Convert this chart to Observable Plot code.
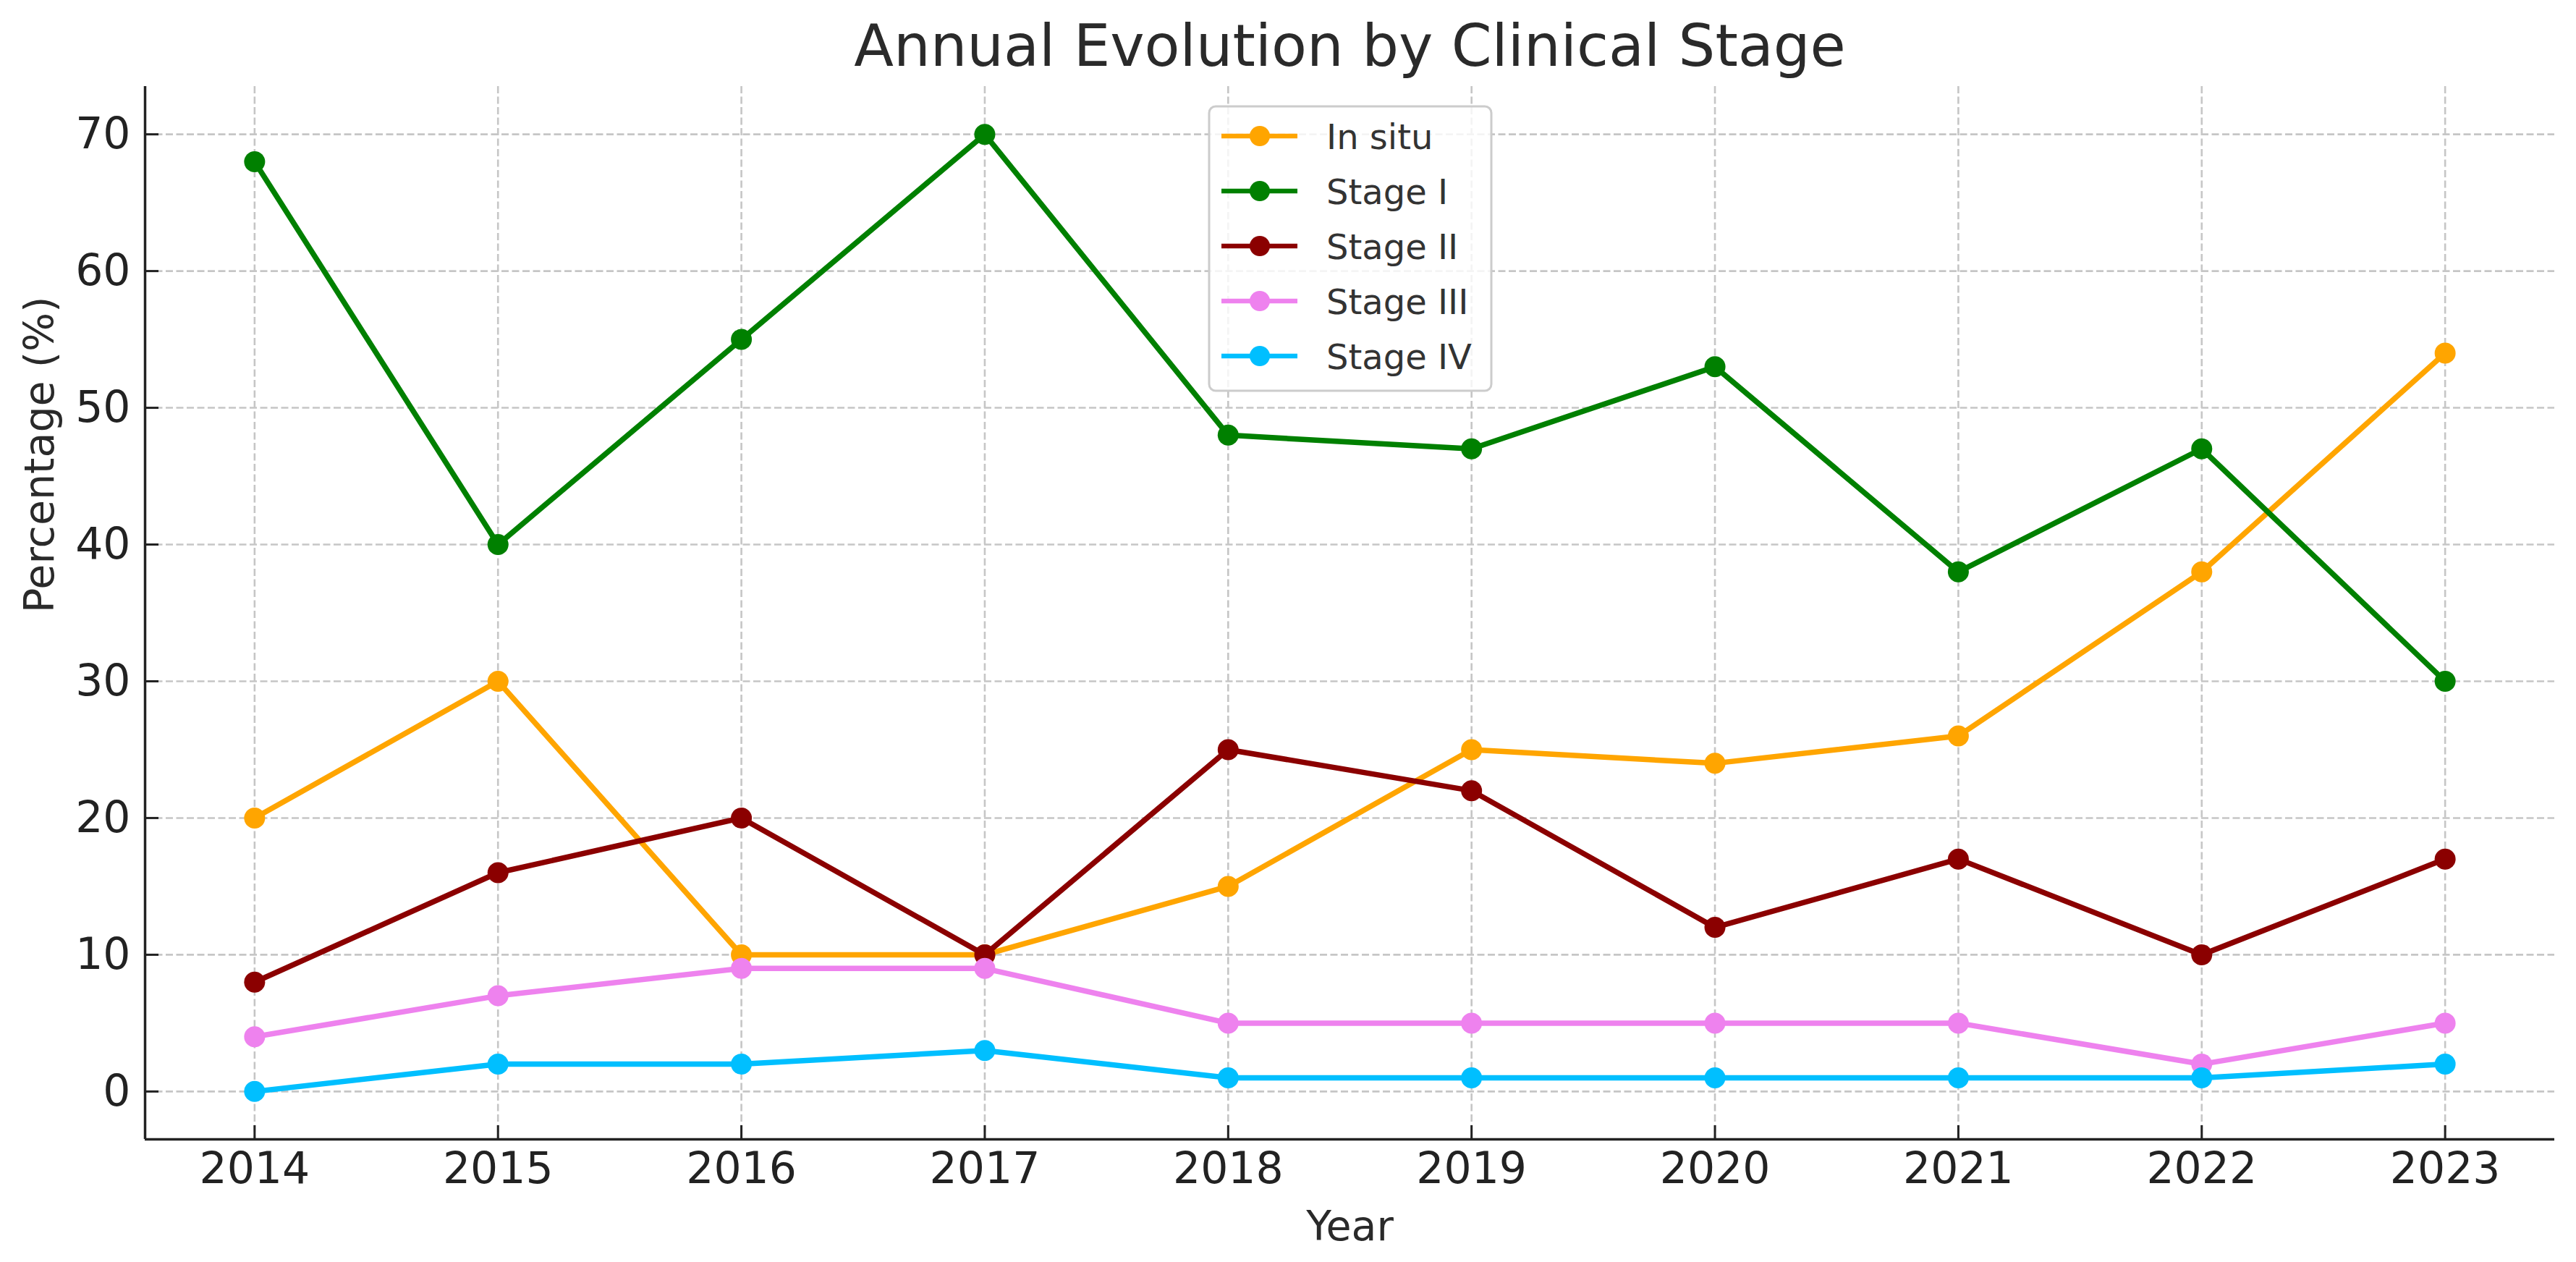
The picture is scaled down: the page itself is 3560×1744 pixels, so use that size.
<!DOCTYPE html>
<html>
<head>
<meta charset="utf-8">
<script src="https://cdn.jsdelivr.net/npm/d3@7"></script>
<script src="https://cdn.jsdelivr.net/npm/@observablehq/plot@0.6"></script>
<style>
html, body { margin: 0; padding: 0; background: #ffffff; }
#wrap { position: relative; width: 3560px; height: 1744px; overflow: hidden; }
#wrap > svg { position: absolute; left: 0; top: 0; }
</style>
</head>
<body>
<div id="wrap"></div>
<script>
// ---------- data ----------
const years = [2014, 2015, 2016, 2017, 2018, 2019, 2020, 2021, 2022, 2023];
const seriesNames = ["In situ", "Stage I", "Stage II", "Stage III", "Stage IV"];
const seriesColors = ["#FFA500", "#008000", "#8B0000", "#EE82EE", "#00BFFF"];
const inSitu   = [20, 30, 10, 10, 15, 25, 24, 26, 38, 54];
const stageI   = [68, 40, 55, 70, 48, 47, 53, 38, 47, 30];
const stageII  = [8, 16, 20, 10, 25, 22, 12, 17, 10, 17];
const stageIII = [4, 7, 9, 9, 5, 5, 5, 5, 2, 5];
const stageIV  = [0, 2, 2, 3, 1, 1, 1, 1, 1, 2];
const yTicks = [0, 10, 20, 30, 40, 50, 60, 70];
const titleText = "Annual Evolution by Clinical Stage";
const xLabel = "Year";
const yLabel = "Percentage (%)";

// ---------- build ----------
const seriesValues = [inSitu, stageI, stageII, stageIII, stageIV];
const rows = seriesNames.flatMap((name, i) =>
  years.map((year, j) => ({series: name, year, value: seriesValues[i][j]})));

const W = 3560, H = 1744;
const FONT = "'DejaVu Sans', sans-serif";
const xPad = (years[years.length - 1] - years[0]) * 0.05;
const xDomain = [years[0] - xPad, years[years.length - 1] + xPad];
const yPad = 70 * 0.05;
const yDomain = [0 - yPad, 70 + yPad];

const gridStyle = {stroke: "#c6c6c6", strokeOpacity: 1, strokeWidth: 2.6, strokeDasharray: "10,4.5"};

const marks = [
  Plot.gridX(years, gridStyle),
  Plot.gridY(yTicks, gridStyle)
];
seriesNames.forEach((name, i) => {
  const d = rows.filter(r => r.series === name);
  marks.push(Plot.line(d, {x: "year", y: "value", stroke: seriesColors[i], strokeWidth: 7.5, strokeLinejoin: "round", strokeLinecap: "square"}));
  marks.push(Plot.dot(d, {x: "year", y: "value", r: 14.5, fill: seriesColors[i], stroke: null}));
});
marks.push(
  Plot.ruleX([xDomain[0]], {stroke: "#222", strokeWidth: 3.5}),
  Plot.ruleY([yDomain[0]], {stroke: "#222", strokeWidth: 3.5}),
  Plot.axisX(years, {tickSize: -19, tickPadding: 37, tickFormat: d => String(d), fontSize: 60, color: "#222", strokeWidth: 3, label: null}),
  Plot.axisY(yTicks, {tickSize: -19, tickPadding: 39, tickFormat: d => String(d), fontSize: 60, color: "#222", strokeWidth: 3, label: null}),
  Plot.text([titleText], {text: d => d, frameAnchor: "top", dy: -29, lineAnchor: "bottom", fontSize: 80, fill: "#2a2a2a"}),
  Plot.text([xLabel], {text: d => d, frameAnchor: "bottom", dy: 139, lineAnchor: "bottom", fontSize: 57, fill: "#2a2a2a"}),
  Plot.text([yLabel], {text: d => d, frameAnchor: "left", dx: -127, rotate: -90, lineAnchor: "bottom", fontSize: 57, fill: "#2a2a2a"})
);

const chart = Plot.plot({
  width: W,
  height: H,
  marginLeft: 200,
  marginRight: 30,
  marginTop: 119,
  marginBottom: 170,
  x: {domain: xDomain, axis: null},
  y: {domain: yDomain, axis: null},
  style: {fontFamily: FONT, background: "#ffffff", overflow: "visible"},
  marks
});
document.getElementById("wrap").appendChild(chart);

// ---------- legend overlay ----------
const legend = d3.select("#wrap").append("svg")
  .attr("width", W).attr("height", H)
  .style("pointer-events", "none")
  .style("font-family", FONT);
const LX = 1671, LY = 147, LW = 390, LH = 393, rowGap = 76, firstRow = 41;
legend.append("rect")
  .attr("x", LX).attr("y", LY).attr("width", LW).attr("height", LH)
  .attr("rx", 9).attr("ry", 9)
  .attr("fill", "rgba(255,255,255,0.8)")
  .attr("stroke", "#cccccc").attr("stroke-width", 3);
seriesNames.forEach((name, i) => {
  const cy = LY + firstRow + i * rowGap;
  const g = legend.append("g");
  g.append("line")
    .attr("x1", LX + 17).attr("x2", LX + 122).attr("y1", cy).attr("y2", cy)
    .attr("stroke", seriesColors[i]).attr("stroke-width", 6.5);
  g.append("circle")
    .attr("cx", LX + 70).attr("cy", cy).attr("r", 14)
    .attr("fill", seriesColors[i]);
  g.append("text")
    .attr("x", LX + 162).attr("y", cy + 18)
    .attr("font-size", 48).attr("fill", "#333")
    .text(name);
});
</script>
</body>
</html>
